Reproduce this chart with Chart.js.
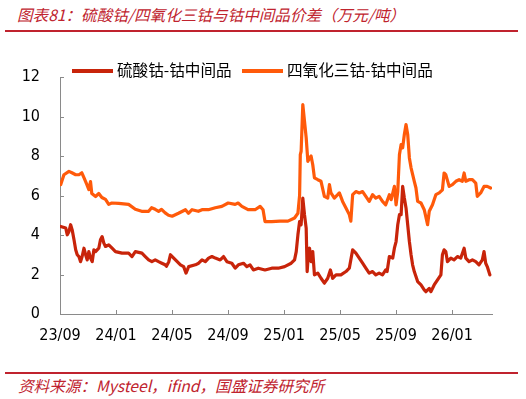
<!DOCTYPE html>
<html>
<head>
<meta charset="utf-8">
<script src="https://cdn.jsdelivr.net/npm/chart.js@4.4.1/dist/chart.umd.min.js"></script>
<style>
html,body{margin:0;padding:0;background:#fff;width:526px;height:399px;overflow:hidden;}
#title{position:absolute;left:17px;top:4px;line-height:20px;font-style:italic;font-size:15.6px;font-family:"Noto Sans CJK SC";color:#C0232E;white-space:nowrap;}
.rule{position:absolute;left:5px;width:513px;height:2px;background:#C0232E;}
#wrap{position:absolute;left:0;top:40px;width:526px;height:310px;}
.leg{position:absolute;top:59px;height:20px;line-height:20px;font-size:15.6px;font-family:"Noto Sans CJK SC";color:#000;white-space:nowrap;}
.leg .sw{display:inline-block;width:41px;height:4px;vertical-align:middle;margin-right:4px;position:relative;top:-1px;}
#source{position:absolute;left:18px;top:375px;line-height:20px;font-style:italic;font-size:15.6px;font-family:"Noto Sans CJK SC";color:#C0232E;white-space:nowrap;}
</style>
</head>
<body>
<div id="title">图表81：硫酸钴/四氧化三钴与钴中间品价差（万元/吨）</div>
<div class="rule" style="top:30px"></div>
<div id="wrap"><canvas id="c" width="526" height="310"></canvas></div>
<div class="leg" id="leg0" style="left:72px"><span class="sw"></span><span class="tx"></span></div>
<div class="leg" id="leg1" style="left:242px"><span class="sw"></span><span class="tx"></span></div>
<div class="rule" style="top:372px"></div>
<div id="source">资料来源：Mysteel，ifind，国盛证券研究所</div>
<script>
// ---- data ----
const seriesNames = ['硫酸钴-钴中间品', '四氧化三钴-钴中间品'];
const seriesColors = ['#C8240A', '#FF5A0A'];
const xTickMonths = [0, 4, 8, 12, 16, 20, 24, 28]; // months since 2023-09
const xTickLabels = ['23/09', '24/01', '24/05', '24/09', '25/01', '25/05', '25/09', '26/01'];
const yTickValues = [0, 2, 4, 6, 8, 10, 12];

// 硫酸钴-钴中间品 (万元/吨); time in months since 2023-09-01
const sulfateMonths = [0.05,0.41,0.52,0.64,0.76,0.87,1.00,1.12,1.23,1.35,1.47,1.58,1.71,1.83,1.94,2.06,2.18,2.30,2.42,2.54,2.77,2.89,3.01,3.13,3.25,3.48,3.72,3.96,4.43,4.90,5.14,5.38,5.85,6.09,6.33,6.56,6.80,7.04,7.27,7.51,7.60,7.77,7.89,8.12,8.37,8.60,8.83,9.00,9.19,9.67,9.90,10.14,10.38,10.61,10.85,11.09,11.44,11.68,11.92,12.27,12.51,12.74,13.10,13.34,13.57,13.81,14.16,14.64,15.12,15.59,16.04,16.51,16.75,16.87,16.99,17.11,17.22,17.34,17.46,17.58,17.65,17.75,17.82,17.93,18.05,18.17,18.41,18.64,18.88,19.12,19.31,19.47,19.71,20.06,20.42,20.66,20.90,21.13,21.37,21.61,21.84,22.08,22.32,22.55,22.79,23.03,23.26,23.36,23.52,23.76,23.88,24.00,24.12,24.24,24.36,24.47,24.59,24.71,24.83,24.95,25.07,25.18,25.30,25.42,25.54,25.78,26.01,26.13,26.37,26.49,26.72,26.96,27.20,27.31,27.43,27.55,27.67,27.91,28.14,28.38,28.62,28.86,28.98,29.21,29.45,29.69,29.92,30.16,30.28,30.40,30.51,30.70];
const sulfateValues = [4.43,4.35,4.01,4.18,4.52,4.26,3.76,3.25,3.00,2.91,2.65,2.91,3.33,3.00,2.74,3.16,2.83,2.65,3.25,3.16,3.33,3.76,3.92,3.59,3.42,3.50,3.33,3.16,3.08,3.08,2.91,3.16,3.08,2.91,2.74,2.65,2.74,2.65,2.57,2.49,2.42,2.65,3.00,2.83,2.65,2.49,2.40,2.07,2.40,2.49,2.57,2.74,2.65,2.83,2.91,2.83,2.74,2.91,2.65,2.57,2.32,2.49,2.57,2.40,2.49,2.23,2.32,2.23,2.32,2.32,2.40,2.57,2.74,3.16,4.01,4.68,4.52,5.87,5.03,4.35,2.15,3.16,3.33,2.65,3.16,1.98,2.07,1.81,1.56,1.81,2.23,1.81,1.98,1.98,2.15,2.32,3.25,3.08,2.83,2.57,2.32,2.07,2.15,1.98,2.07,1.98,2.23,2.15,2.91,2.83,3.33,3.67,4.52,5.03,5.03,6.46,5.87,5.37,4.52,3.67,3.00,2.49,2.15,1.90,1.64,1.47,1.22,1.13,1.30,1.13,1.47,1.73,1.98,3.00,3.25,3.16,2.65,2.83,2.74,2.91,2.83,3.33,2.83,2.65,2.74,2.65,2.49,2.74,3.16,2.57,2.40,1.98];

// 四氧化三钴-钴中间品 (万元/吨)
const oxideMonths = [0.05,0.28,0.64,0.85,1.12,1.35,1.56,1.71,1.92,2.06,2.18,2.27,2.54,2.77,2.99,3.25,3.48,3.70,4.19,4.90,5.38,5.83,6.33,6.54,6.80,7.04,7.25,7.51,7.75,8.01,8.46,8.96,9.17,9.43,9.88,10.14,10.59,11.09,11.56,12.01,12.51,12.72,12.99,13.43,13.93,14.29,14.50,14.64,15.12,15.71,16.28,16.75,16.99,17.11,17.16,17.22,17.34,17.46,17.58,17.70,17.82,17.93,18.05,18.17,18.41,18.64,18.88,19.12,19.24,19.35,19.59,19.83,19.95,20.18,20.42,20.66,20.77,20.90,21.13,21.37,21.61,21.84,22.08,22.32,22.55,22.79,23.03,23.26,23.52,23.65,23.88,24.00,24.12,24.24,24.36,24.47,24.59,24.71,24.83,24.95,25.07,25.30,25.42,25.54,25.78,26.01,26.25,26.37,26.60,26.84,27.08,27.31,27.43,27.55,27.79,28.02,28.27,28.50,28.73,28.86,28.98,29.21,29.45,29.69,29.80,30.04,30.28,30.51,30.75];
const oxideValues = [6.55,7.05,7.22,7.15,7.05,7.05,7.15,6.90,6.55,6.30,6.70,6.10,5.95,6.10,5.90,5.80,5.55,5.62,5.60,5.55,5.30,5.20,5.20,5.38,5.30,5.20,5.30,5.12,5.00,4.95,5.10,5.28,5.10,5.28,5.20,5.28,5.28,5.38,5.45,5.62,5.55,5.62,5.45,5.28,5.28,5.45,5.28,4.68,4.68,4.70,4.70,4.86,5.10,6.00,8.07,8.24,10.60,9.76,8.93,7.73,7.90,8.00,7.56,6.89,6.80,6.72,5.96,5.87,6.55,6.13,5.87,6.04,6.13,5.70,5.37,5.03,4.70,6.04,6.20,6.13,6.20,5.96,5.70,6.04,5.87,5.96,5.70,5.53,6.04,5.79,6.46,5.53,6.20,8.07,8.58,8.41,9.09,9.59,9.09,7.90,7.40,6.72,6.38,5.70,5.62,5.28,4.52,5.20,5.53,6.04,6.13,6.29,7.14,7.06,6.46,6.55,6.72,6.80,6.72,7.14,6.72,6.80,6.80,6.63,5.96,6.13,6.46,6.46,6.38];

// ---- legend ----
[0, 1].forEach(i => {
  const el = document.getElementById('leg' + i);
  el.querySelector('.sw').style.background = seriesColors[i];
  el.querySelector('.tx').textContent = seriesNames[i];
});

const toPoints = (xs, ys) => xs.map((x, i) => ({x: x, y: ys[i]}));
const axisColor = '#8a8a8a';
const tickFont = {family: '"DejaVu Sans Condensed", "Liberation Sans", sans-serif', size: 16};

const innerTicks = {
  id: 'innerTicks',
  afterDraw(chart) {
    const {ctx, chartArea, scales} = chart;
    ctx.save();
    ctx.strokeStyle = axisColor;
    ctx.lineWidth = 1;
    ctx.beginPath();
    yTickValues.forEach(v => {
      const py = Math.round(scales.y.getPixelForValue(v)) + 0.5;
      ctx.moveTo(chartArea.left, py); ctx.lineTo(chartArea.left + 4, py);
    });
    xTickMonths.forEach(v => {
      const px = Math.round(scales.x.getPixelForValue(v)) + 0.5;
      ctx.moveTo(px, chartArea.bottom); ctx.lineTo(px, chartArea.bottom - 4);
    });
    ctx.stroke();
    ctx.restore();
  }
};

new Chart(document.getElementById('c'), {
  type: 'line',
  data: {
    datasets: [
      {label: seriesNames[0], data: toPoints(sulfateMonths, sulfateValues), borderColor: seriesColors[0], backgroundColor: seriesColors[0]},
      {label: seriesNames[1], data: toPoints(oxideMonths, oxideValues), borderColor: seriesColors[1], backgroundColor: seriesColors[1]}
    ]
  },
  options: {
    responsive: false,
    animation: false,
    devicePixelRatio: 1,
    layout: {padding: {top: 37, right: 34, left: 0, bottom: 0}},
    plugins: {legend: {display: false}, tooltip: {enabled: false}},
    elements: {
      point: {radius: 0},
      line: {borderWidth: 3.2, tension: 0, borderJoinStyle: 'round', borderCapStyle: 'round'}
    },
    scales: {
      x: {
        type: 'linear', min: 0, max: 30.85,
        afterBuildTicks(s) { s.ticks = xTickMonths.map(v => ({value: v})); },
        afterFit(s) { s.height = 36; },
        ticks: {
          callback: v => xTickLabels[xTickMonths.indexOf(v)],
          color: '#000', font: tickFont, padding: 12, maxRotation: 0, autoSkip: false
        },
        grid: {display: false, drawTicks: false},
        border: {display: true, color: axisColor, width: 1}
      },
      y: {
        type: 'linear', min: 0, max: 12,
        afterBuildTicks(s) { s.ticks = yTickValues.map(v => ({value: v})); },
        afterFit(s) { s.width = 60; },
        ticks: {color: '#000', font: tickFont, padding: 20},
        grid: {display: false, drawTicks: false},
        border: {display: true, color: axisColor, width: 1}
      }
    }
  },
  plugins: [innerTicks]
});
</script>
</body>
</html>
